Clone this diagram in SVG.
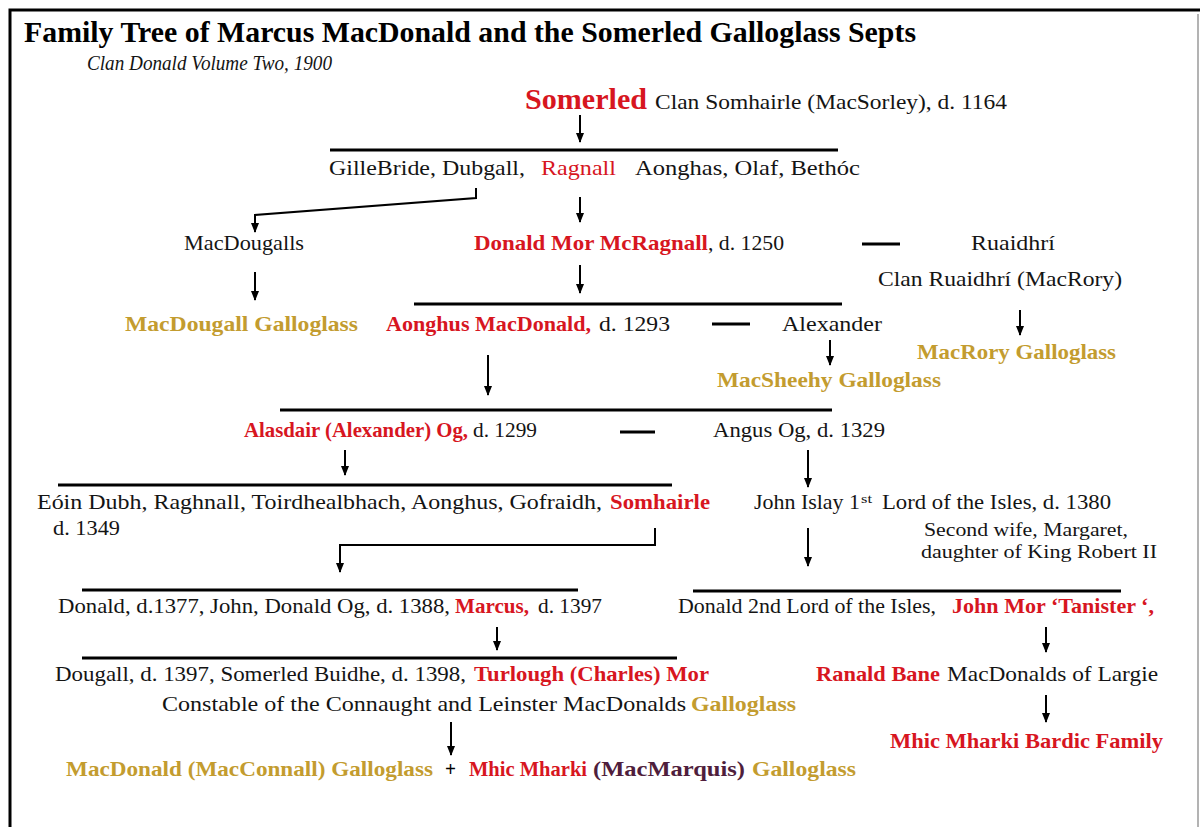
<svg xmlns="http://www.w3.org/2000/svg" width="1200" height="827" viewBox="0 0 1200 827">
<style>
text{font-family:"Liberation Serif","Times New Roman","DejaVu Serif",serif;font-size:21px;fill:#141414}
.b{font-weight:bold}
.r{fill:#d7161f}
.g{fill:#c39c2f}
.m{fill:#4f1e3c}
.k{fill:#000}
.tt{font-size:29px}
.big{font-size:30px}
.sub{font-size:20px;font-style:italic}
.sup{font-size:12px}
.s19{font-size:19px}
.hl{stroke:#000;stroke-width:3;fill:none}
.ar{stroke:#000;stroke-width:2;fill:none;marker-end:url(#ah)}
</style>
<defs>
<marker id="ah" markerUnits="userSpaceOnUse" markerWidth="10" markerHeight="10" refX="9" refY="5" orient="auto">
<path d="M0,1 L10,5 L0,9 z" fill="#000"/>
</marker>
</defs>
<rect width="1200" height="827" fill="#fff"/>
<g id="frame">
<path d="M10,827 V10 H1200" stroke="#000" stroke-width="3" fill="none"/>
<path d="M1198,14 V827" stroke="#9a9a9a" stroke-width="1.5"/>
</g>
<g id="title">
<text x="24" y="42" class="b k tt" textLength="892" lengthAdjust="spacingAndGlyphs">Family Tree of Marcus MacDonald and the Somerled Galloglass Septs</text>
<text x="87" y="70" class="sub" textLength="245" lengthAdjust="spacingAndGlyphs">Clan Donald Volume Two, 1900</text>
</g>
<g id="connectors">
<path class="ar" d="M580,115 V142"/>
<path class="hl" d="M330,150 H838"/>
<path class="ar" d="M476,188 V198 L255,215 V232"/>
<path class="ar" d="M580,197 V222"/>
<path class="hl" d="M862,244 H900"/>
<path class="ar" d="M255,272 V300"/>
<path class="ar" d="M580,265 V293"/>
<path class="hl" d="M414,304 H842"/>
<path class="hl" d="M712,324 H750"/>
<path class="ar" d="M1020,310 V335"/>
<path class="ar" d="M830,340 V365"/>
<path class="ar" d="M488,355 V395"/>
<path class="hl" d="M280,410 H832"/>
<path class="hl" d="M620,432 H655"/>
<path class="ar" d="M345,450 V475"/>
<path class="ar" d="M808,450 V487"/>
<path class="hl" d="M58,485 H672"/>
<path class="ar" d="M655,528 V545 H340 V572"/>
<path class="ar" d="M808,528 V566"/>
<path class="hl" d="M82,590 H578"/>
<path class="hl" d="M693,591 H1121"/>
<path class="ar" d="M497,627 V650"/>
<path class="ar" d="M1046,627 V652"/>
<path class="hl" d="M82,658 H677"/>
<path class="ar" d="M1046,695 V722"/>
<path class="ar" d="M451,722 V755"/>
</g>
<g id="somerled">
<text x="525" y="109" class="b r big" textLength="122" lengthAdjust="spacingAndGlyphs">Somerled</text>
<text x="655" y="109" textLength="352" lengthAdjust="spacingAndGlyphs">Clan Somhairle (MacSorley), d. 1164</text>
</g>
<g id="somerled-children">
<text x="329" y="175" textLength="196" lengthAdjust="spacingAndGlyphs">GilleBride,  Dubgall,</text>
<text x="541" y="175" class="r" textLength="75" lengthAdjust="spacingAndGlyphs">Ragnall</text>
<text x="635" y="175" textLength="225" lengthAdjust="spacingAndGlyphs">Aonghas,  Olaf,  Bethóc</text>
</g>
<g id="macdougalls">
<text x="184" y="250" textLength="120" lengthAdjust="spacingAndGlyphs">MacDougalls</text>
</g>
<g id="donald-mor">
<text x="474" y="250" class="b r" textLength="234" lengthAdjust="spacingAndGlyphs">Donald Mor McRagnall</text>
<text x="708" y="250" textLength="76" lengthAdjust="spacingAndGlyphs">, d. 1250</text>
</g>
<g id="ruaidhri">
<text x="971" y="250" textLength="84" lengthAdjust="spacingAndGlyphs">Ruaidhrí</text>
<text x="878" y="286" textLength="244" lengthAdjust="spacingAndGlyphs">Clan Ruaidhrí (MacRory)</text>
</g>
<g id="macdougall-galloglass">
<text x="125" y="331" class="b g" textLength="233" lengthAdjust="spacingAndGlyphs">MacDougall Galloglass</text>
</g>
<g id="aonghus">
<text x="386" y="331" class="b r" textLength="205" lengthAdjust="spacingAndGlyphs">Aonghus MacDonald,</text>
<text x="599" y="331" textLength="71" lengthAdjust="spacingAndGlyphs">d. 1293</text>
</g>
<g id="alexander">
<text x="782" y="331" textLength="100" lengthAdjust="spacingAndGlyphs">Alexander</text>
</g>
<g id="macrory-galloglass">
<text x="917" y="359" class="b g" textLength="199" lengthAdjust="spacingAndGlyphs">MacRory Galloglass</text>
</g>
<g id="macsheehy-galloglass">
<text x="717" y="387" class="b g" textLength="224" lengthAdjust="spacingAndGlyphs">MacSheehy Galloglass</text>
</g>
<g id="alasdair">
<text x="244" y="437" class="b r" textLength="224" lengthAdjust="spacingAndGlyphs">Alasdair (Alexander) Og,</text>
<text x="473" y="437" textLength="64" lengthAdjust="spacingAndGlyphs">d. 1299</text>
</g>
<g id="angus-og">
<text x="713" y="437" textLength="172" lengthAdjust="spacingAndGlyphs">Angus Og, d. 1329</text>
</g>
<g id="alasdair-children">
<text x="37" y="509" textLength="565" lengthAdjust="spacingAndGlyphs">Eóin Dubh, Raghnall, Toirdhealbhach, Aonghus, Gofraidh,</text>
<text x="610" y="509" class="b r" textLength="100" lengthAdjust="spacingAndGlyphs">Somhairle</text>
<text x="53" y="535" textLength="67" lengthAdjust="spacingAndGlyphs">d. 1349</text>
</g>
<g id="john-islay">
<text x="754" y="509" textLength="106" lengthAdjust="spacingAndGlyphs">John Islay 1</text>
<text x="861" y="503" class="sup" textLength="11" lengthAdjust="spacingAndGlyphs">st</text>
<text x="882" y="509" textLength="229" lengthAdjust="spacingAndGlyphs">Lord of the Isles, d. 1380</text>
</g>
<g id="margaret">
<text x="924" y="536" class="s19" textLength="204" lengthAdjust="spacingAndGlyphs">Second wife, Margaret,</text>
<text x="921" y="558" class="s19" textLength="236" lengthAdjust="spacingAndGlyphs">daughter of King Robert II</text>
</g>
<g id="somhairle-children">
<text x="58" y="613" textLength="392" lengthAdjust="spacingAndGlyphs">Donald, d.1377, John, Donald Og, d. 1388,</text>
<text x="455" y="613" class="b r" textLength="74" lengthAdjust="spacingAndGlyphs">Marcus,</text>
<text x="538" y="613" textLength="64" lengthAdjust="spacingAndGlyphs">d. 1397</text>
</g>
<g id="john-islay-children">
<text x="678" y="613" textLength="258" lengthAdjust="spacingAndGlyphs">Donald 2nd Lord of the Isles,</text>
<text x="952" y="613" class="b r" textLength="202" lengthAdjust="spacingAndGlyphs">John Mor ‘Tanister ‘,</text>
</g>
<g id="marcus-children">
<text x="55" y="681" textLength="411" lengthAdjust="spacingAndGlyphs">Dougall, d. 1397, Somerled Buidhe, d. 1398,</text>
<text x="474" y="681" class="b r" textLength="235" lengthAdjust="spacingAndGlyphs">Turlough (Charles) Mor</text>
<text x="162" y="711" textLength="524" lengthAdjust="spacingAndGlyphs">Constable of the Connaught and Leinster MacDonalds</text>
<text x="691" y="711" class="b g" textLength="105" lengthAdjust="spacingAndGlyphs">Galloglass</text>
</g>
<g id="ranald-bane">
<text x="816" y="681" class="b r" textLength="124" lengthAdjust="spacingAndGlyphs">Ranald Bane</text>
<text x="947" y="681" textLength="211" lengthAdjust="spacingAndGlyphs">MacDonalds of Largie</text>
</g>
<g id="mhic-mharki-bardic">
<text x="890" y="748" class="b r" textLength="273" lengthAdjust="spacingAndGlyphs">Mhic Mharki Bardic Family</text>
</g>
<g id="galloglass-result">
<text x="66" y="776" class="b g" textLength="367" lengthAdjust="spacingAndGlyphs">MacDonald (MacConnall) Galloglass</text>
<text x="445" y="776" class="b k" textLength="11" lengthAdjust="spacingAndGlyphs">+</text>
<text x="469" y="776" class="b r" textLength="118" lengthAdjust="spacingAndGlyphs">Mhic Mharki</text>
<text x="593" y="776" class="b m" textLength="152" lengthAdjust="spacingAndGlyphs">(MacMarquis)</text>
<text x="752" y="776" class="b g" textLength="104" lengthAdjust="spacingAndGlyphs">Galloglass</text>
</g>
</svg>
